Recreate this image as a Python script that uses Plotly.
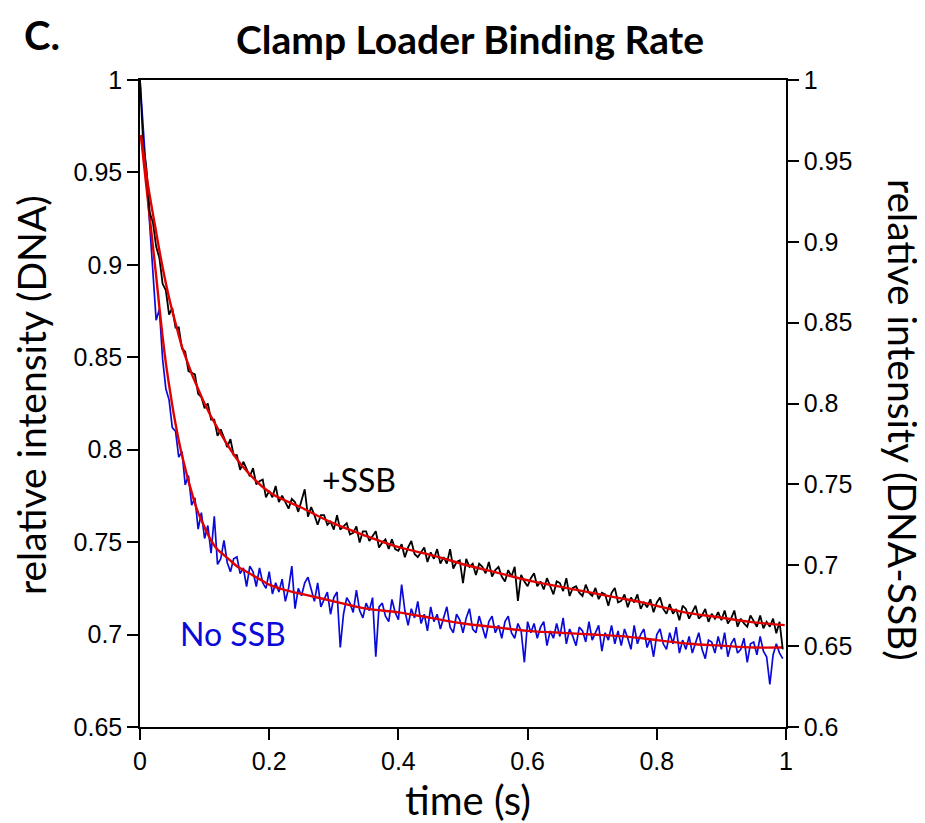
import numpy as np
import plotly.graph_objects as go

# sampling of the recorded traces (s)
dt = 0.005
n_points = 200
time_s = np.arange(n_points) * dt

# No SSB trace (left axis, relative intensity DNA)
no_ssb = [
    1.000, 0.975, 0.948, 0.920, 0.898, 0.870, 0.876, 0.849, 0.833, 0.827,
    0.812, 0.810, 0.796, 0.799, 0.781, 0.786, 0.770, 0.774, 0.757, 0.766,
    0.752, 0.759, 0.744, 0.764, 0.738, 0.741, 0.751, 0.739, 0.734, 0.741,
    0.742, 0.733, 0.736, 0.726, 0.737, 0.734, 0.726, 0.736, 0.728, 0.725,
    0.734, 0.722, 0.728, 0.723, 0.730, 0.718, 0.725, 0.737, 0.714, 0.725,
    0.721, 0.728, 0.731, 0.724, 0.718, 0.728, 0.715, 0.719, 0.723, 0.711,
    0.720, 0.723, 0.693, 0.711, 0.720, 0.717, 0.712, 0.724, 0.713, 0.709,
    0.717, 0.713, 0.720, 0.688, 0.715, 0.717, 0.710, 0.707, 0.719, 0.712,
    0.708, 0.727, 0.713, 0.705, 0.714, 0.709, 0.718, 0.706, 0.711, 0.702,
    0.715, 0.707, 0.711, 0.703, 0.709, 0.715, 0.704, 0.701, 0.711, 0.708,
    0.701, 0.709, 0.714, 0.703, 0.701, 0.710, 0.704, 0.698, 0.707, 0.710,
    0.701, 0.705, 0.698, 0.707, 0.710, 0.701, 0.698, 0.706, 0.702, 0.685,
    0.707, 0.701, 0.706, 0.698, 0.704, 0.707, 0.694, 0.702, 0.698, 0.706,
    0.699, 0.709, 0.695, 0.703, 0.699, 0.694, 0.704, 0.702, 0.696, 0.707,
    0.697, 0.701, 0.705, 0.691, 0.701, 0.697, 0.705, 0.695, 0.702, 0.694,
    0.703, 0.698, 0.692, 0.705, 0.695, 0.700, 0.703, 0.693, 0.698, 0.688,
    0.700, 0.703, 0.695, 0.692, 0.701, 0.695, 0.704, 0.690, 0.697, 0.692,
    0.699, 0.690, 0.696, 0.701, 0.692, 0.687, 0.697, 0.696, 0.690, 0.699,
    0.692, 0.701, 0.688, 0.695, 0.698, 0.690, 0.692, 0.698, 0.685, 0.695,
    0.696, 0.689, 0.699, 0.691, 0.688, 0.673, 0.689, 0.695, 0.690, 0.687,
]

# +SSB trace (right axis, relative intensity DNA-SSB)
plus_ssb = [
    1.000, 0.960, 0.945, 0.918, 0.912, 0.897, 0.890, 0.874, 0.870, 0.855,
    0.859, 0.847, 0.847, 0.834, 0.832, 0.820, 0.819, 0.818, 0.806, 0.804,
    0.797, 0.800, 0.790, 0.790, 0.780, 0.784, 0.779, 0.773, 0.778, 0.768,
    0.768, 0.759, 0.764, 0.759, 0.755, 0.760, 0.750, 0.752, 0.753, 0.742,
    0.746, 0.742, 0.749, 0.739, 0.743, 0.739, 0.735, 0.741, 0.739, 0.733,
    0.740, 0.747, 0.730, 0.736, 0.731, 0.725, 0.731, 0.731, 0.725, 0.727,
    0.722, 0.731, 0.722, 0.724, 0.726, 0.719, 0.720, 0.724, 0.714, 0.721,
    0.721, 0.715, 0.718, 0.721, 0.711, 0.714, 0.716, 0.710, 0.716, 0.710,
    0.709, 0.713, 0.705, 0.711, 0.715, 0.707, 0.705, 0.708, 0.711, 0.702,
    0.708, 0.704, 0.710, 0.701, 0.705, 0.701, 0.710, 0.698, 0.702, 0.703,
    0.689, 0.704, 0.699, 0.701, 0.694, 0.701, 0.699, 0.695, 0.702, 0.693,
    0.697, 0.699, 0.693, 0.690, 0.697, 0.693, 0.699, 0.678, 0.694, 0.690,
    0.687, 0.692, 0.695, 0.687, 0.690, 0.685, 0.692, 0.687, 0.682, 0.690,
    0.689, 0.684, 0.692, 0.681, 0.686, 0.687, 0.683, 0.681, 0.688, 0.683,
    0.681, 0.686, 0.679, 0.683, 0.682, 0.675, 0.683, 0.686, 0.677, 0.678,
    0.682, 0.674, 0.680, 0.677, 0.682, 0.673, 0.677, 0.674, 0.679, 0.671,
    0.677, 0.680, 0.673, 0.670, 0.676, 0.670, 0.673, 0.666, 0.675, 0.673,
    0.667, 0.671, 0.675, 0.667, 0.669, 0.673, 0.665, 0.670, 0.667, 0.671,
    0.666, 0.672, 0.664, 0.667, 0.672, 0.662, 0.667, 0.664, 0.662, 0.669,
    0.665, 0.662, 0.669, 0.661, 0.665, 0.662, 0.667, 0.658, 0.665, 0.648,
]

# fitted curves
fit_no_ssb_t = [0.0015, 0.005, 0.010, 0.015, 0.020, 0.025, 0.030, 0.035, 0.040, 0.045,
                0.050, 0.055, 0.060, 0.065, 0.070, 0.075, 0.080, 0.085, 0.090, 0.095,
                0.100, 0.110, 0.120, 0.130, 0.140, 0.150, 0.160, 0.170, 0.180, 0.190,
                0.200, 0.225, 0.250, 0.300, 0.350, 0.400, 0.450, 0.500, 0.550, 0.600,
                0.650, 0.700, 0.750, 0.800, 0.850, 0.900, 0.950, 0.995]
fit_no_ssb_v = [0.970, 0.958, 0.942, 0.926, 0.910, 0.894, 0.877, 0.861, 0.847, 0.835,
                0.824, 0.814, 0.805, 0.797, 0.790, 0.783, 0.777, 0.771, 0.766, 0.762,
                0.758, 0.751, 0.746, 0.743, 0.740, 0.737, 0.735, 0.733, 0.731, 0.729,
                0.727, 0.724, 0.722, 0.718, 0.714, 0.712, 0.709, 0.706, 0.704, 0.702,
                0.701, 0.700, 0.699, 0.697, 0.695, 0.694, 0.693, 0.693]

fit_plus_ssb_t = [0.0015, 0.0124, 0.0232, 0.0341, 0.0464, 0.0588, 0.0666, 0.0975, 0.124,
                  0.159, 0.201, 0.248, 0.299, 0.351, 0.402, 0.454, 0.506, 0.557, 0.608,
                  0.686, 0.738, 0.789, 0.841, 0.893, 0.944, 0.998]
fit_plus_ssb_v = [0.966, 0.935, 0.910, 0.886, 0.863, 0.844, 0.833, 0.802, 0.782,
                  0.761, 0.745, 0.736, 0.726, 0.718, 0.711, 0.706, 0.700, 0.695, 0.690,
                  0.684, 0.680, 0.676, 0.671, 0.668, 0.665, 0.663]

x_ticks = [0, 0.2, 0.4, 0.6, 0.8, 1]
x_tick_text = ["0", "0.2", "0.4", "0.6", "0.8", "1"]
left_ticks = [0.65, 0.7, 0.75, 0.8, 0.85, 0.9, 0.95, 1]
left_tick_text = ["0.65", "0.7", "0.75", "0.8", "0.85", "0.9", "0.95", "1"]
right_ticks = [0.6, 0.65, 0.7, 0.75, 0.8, 0.85, 0.9, 0.95, 1]
right_tick_text = ["0.6", "0.65", "0.7", "0.75", "0.8", "0.85", "0.9", "0.95", "1"]

BLUE = "#0a0ad8"
RED = "#e00000"
TICK_FONT = dict(family="Liberation Sans, Arial, sans-serif", size=25, color="black")
TITLE_FAMILY = "Lato, Open Sans, sans-serif"

fig = go.Figure()
fig.add_trace(go.Scatter(x=time_s, y=no_ssb, mode="lines", line=dict(color=BLUE, width=1.7),
                         yaxis="y", showlegend=False))
fig.add_trace(go.Scatter(x=fit_no_ssb_t, y=fit_no_ssb_v, mode="lines",
                         line=dict(color=RED, width=2.4, shape="spline"), yaxis="y", showlegend=False))
fig.add_trace(go.Scatter(x=time_s, y=plus_ssb, mode="lines", line=dict(color="black", width=1.8),
                         yaxis="y2", showlegend=False))
fig.add_trace(go.Scatter(x=fit_plus_ssb_t, y=fit_plus_ssb_v, mode="lines",
                         line=dict(color=RED, width=2.4, shape="spline"), yaxis="y2", showlegend=False))

axis_common = dict(showline=True, linecolor="black", linewidth=1.5, ticks="outside",
                   ticklen=11, tickwidth=1.5, tickcolor="black", showgrid=False,
                   zeroline=False, tickfont=TICK_FONT)


def label(text, x, y, size, color="black", angle=0):
    return dict(text=text, x=x, y=y, xref="paper", yref="paper", showarrow=False,
                xanchor="center", yanchor="middle", textangle=angle,
                font=dict(family=TITLE_FAMILY, size=size, color=color))


fig.update_layout(
    width=917, height=815,
    margin=dict(l=132, r=139, t=72, b=96),
    paper_bgcolor="white", plot_bgcolor="white",
    xaxis=dict(range=[0, 1], tickvals=x_ticks, ticktext=x_tick_text, mirror=True, **axis_common),
    yaxis=dict(range=[0.65, 1], tickvals=left_ticks, ticktext=left_tick_text, **axis_common),
    yaxis2=dict(range=[0.6, 1], tickvals=right_ticks, ticktext=right_tick_text,
                overlaying="y", side="right", **axis_common),
    annotations=[
        label("<b>C.</b>", -0.152, 1.069, 40),
        label("<b>Clamp Loader Binding Rate</b>", 0.511, 1.064, 39),
        label("+SSB", 0.339, 0.383, 32),
        label("No SSB", 0.144, 0.145, 32, color=BLUE),
        label("relative intensity (DNA)", -0.169, 0.513, 39, angle=-90),
        label("relative intensity (DNA-SSB)", 1.181, 0.4745, 39, angle=90),
        label("time (s)", 0.508, -0.113, 40),
    ],
)

fig.write_html("out.html")
